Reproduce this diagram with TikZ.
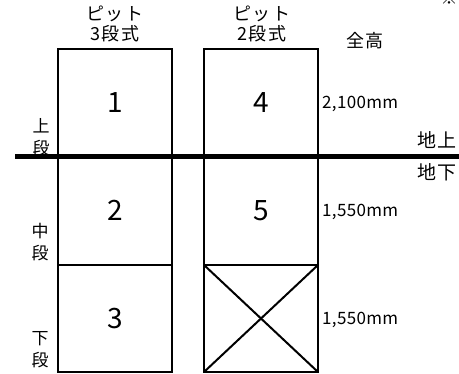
\documentclass[tikz,border=0pt]{standalone}
\usepackage{fontspec}
\setmainfont{Noto Sans CJK JP}
\begin{document}
\begin{tikzpicture}[x=1pt,y=-1pt,
  cell/.style={draw=black,line width=2pt,inner sep=0pt,outer sep=0pt,minimum width=114pt,font=\fontsize{28}{28}\selectfont},
  head/.style={align=center,font=\fontsize{18}{20}\selectfont\addfontfeature{LetterSpace=8}},
  side/.style={align=center,font=\fontsize{17}{22}\selectfont},
  dim/.style={anchor=west,inner sep=0pt,font=\fontsize{17}{17}\selectfont\addfontfeature{LetterSpace=2}},
  gtext/.style={anchor=east,inner sep=0pt,font=\fontsize{19}{19}\selectfont\addfontfeature{LetterSpace=6}},
  ground/.style={line width=5.5pt}]
\useasboundingbox (0,0) rectangle (459,374);
% left column (3 levels)
\node[cell,minimum height=107pt] (c1) at (115,102.5) {1};
\node[cell,minimum height=109pt] (c2) at (115,210.5) {2};
\node[cell,minimum height=107pt] (c3) at (115,318.5) {3};
% right column (2 levels + unused)
\node[cell,minimum height=107pt] (c4) at (261,102.5) {4};
\node[cell,minimum height=109pt] (c5) at (261,210.5) {5};
\node[cell,minimum height=107pt] (c6) at (261,318.5) {};
\draw[line width=2pt] (c6.north west) -- (c6.south east);
\draw[line width=2pt] (c6.south west) -- (c6.north east);
% ground line
\coordinate (gl) at (15,156.5);
\coordinate (gr) at (459,156.5);
\draw[ground] (gl) -- (gr);
% headings
\node[head] (h1) at (115,24) {ピット\\3段式};
\node[head] (h2) at (262,24) {ピット\\2段式};
\node[head] (h3) at (365,41) {全高};
\node[font=\fontsize{17}{17}\selectfont] (note) at (449,-2) {※};
% side labels
\node[side] (s1) at (41,137) {上\\段};
\node[side] (s2) at (40,242) {中\\段};
\node[side] (s3) at (40,350) {下\\段};
% dimensions
\node[dim] (d1) at (322,104) {2,100mm};
\node[dim] (d2) at (322,212) {1,550mm};
\node[dim] (d3) at (322,320) {1,550mm};
% ground labels
\node[gtext] (up) at (457,140) {地上};
\node[gtext] (dn) at (457,172) {地下};
\end{tikzpicture}
\end{document}
